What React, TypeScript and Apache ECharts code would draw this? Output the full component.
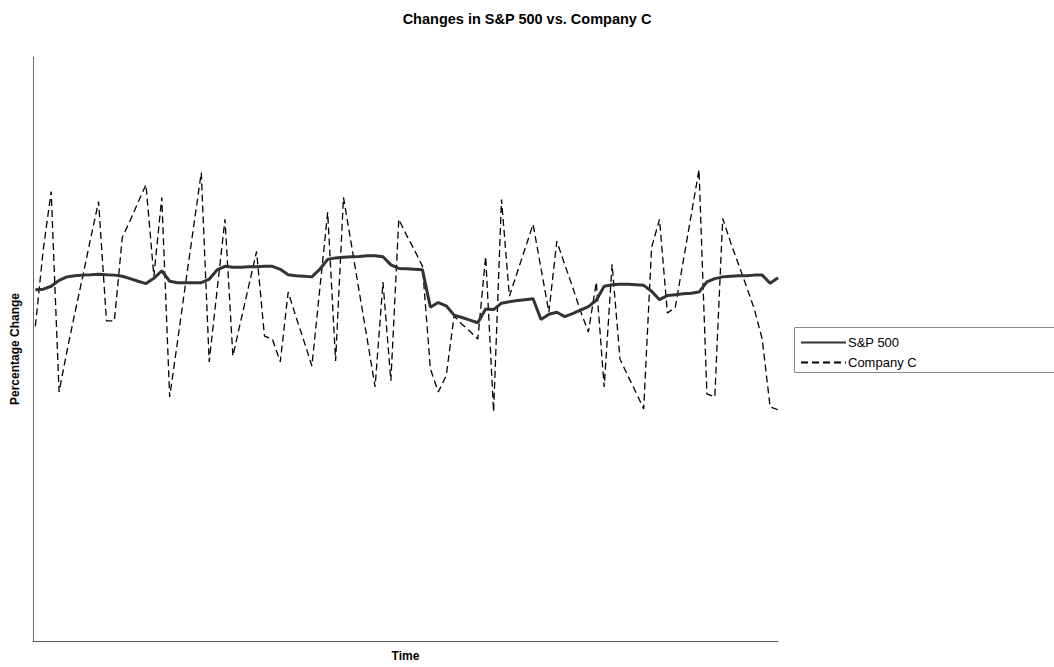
import React, { useEffect, useRef } from "react";
import * as echarts from "echarts";

const chartTitle = "Changes in S&P 500 vs. Company C";
const xAxisName = "Time";
const yAxisName = "Percentage Change";
const seriesNames = ["S&P 500", "Company C"];

const sp500: number[] = [
  2.03, 2.05, 2.15, 2.35, 2.47, 2.51, 2.53, 2.54, 2.56, 2.54,
  2.53, 2.49, 2.41, 2.32, 2.24, 2.42, 2.68, 2.32, 2.27, 2.27,
  2.27, 2.27, 2.39, 2.71, 2.83, 2.8, 2.8, 2.82, 2.82, 2.83,
  2.83, 2.73, 2.54, 2.51, 2.49, 2.47, 2.73, 3.07, 3.12, 3.14,
  3.16, 3.17, 3.19, 3.19, 3.16, 2.88, 2.76, 2.75, 2.73, 2.71,
  1.43, 1.59, 1.48, 1.16, 1.08, 0.99, 0.9, 1.37, 1.35, 1.57,
  1.62, 1.66, 1.69, 1.72, 1.01, 1.19, 1.26, 1.11, 1.21, 1.33,
  1.45, 1.67, 2.15, 2.2, 2.22, 2.22, 2.2, 2.18, 1.98, 1.69,
  1.83, 1.86, 1.89, 1.91, 1.95, 2.3, 2.41, 2.47, 2.49, 2.51,
  2.51, 2.53, 2.53, 2.25, 2.44,
];

const companyC: number[] = [
  0.78, 3.41, 5.39, -1.47, -0.07, 1.23, 2.49, 3.79, 5.05, 0.96,
  0.96, 3.82, 4.4, 5.02, 5.63, 2.49, 5.19, -1.64, 0.27, 2.22,
  4.13, 6.04, -0.44, 2.01, 4.44, -0.24, 0.96, 2.15, 3.34, 0.44,
  0.34, -0.44, 1.95, 1.09, 0.27, -0.58, 2.05, 4.68, -0.41, 5.19,
  3.58, 1.95, 0.34, -1.3, 2.29, -1.09, 4.44, 3.89, 3.38, 2.83,
  -0.68, -1.47, -0.92, 1.13, 0.85, 0.61, 0.34, 3.17, -2.15, 5.12,
  1.81, 2.63, 3.45, 4.27, 2.76, 1.26, 3.69, 2.9, 2.12, 1.3,
  0.58, 2.29, -1.3, 2.9, -0.34, -0.92, -1.47, -2.05, 3.48, 4.44,
  1.23, 1.43, 3.0, 4.57, 6.14, -1.54, -1.64, 4.47, 3.65, 2.9,
  2.15, 1.37, 0.34, -1.98, -2.08,
];

const timeIndex: number[] = sp500.map((_, i) => i);

export default function App() {
  const ref = useRef<HTMLDivElement>(null);

  useEffect(() => {
    if (!ref.current) return;
    const chart = echarts.init(ref.current, undefined, { renderer: "svg" });
    const font = "'Liberation Sans', Arial, Helvetica, sans-serif";
    chart.setOption({
      animation: false,
      backgroundColor: "#ffffff",
      textStyle: { fontFamily: font },
      title: {
        text: chartTitle,
        left: "center",
        top: 6,
        textStyle: { fontFamily: font, fontSize: 14.5, fontWeight: "bold", color: "#000" },
      },
      grid: { left: 33, right: 276, top: 57, bottom: 24 },
      legend: {
        orient: "vertical",
        left: 795,
        top: 331,
        itemWidth: 45,
        itemHeight: 10,
        itemGap: 7,
        itemStyle: { color: "transparent", borderWidth: 0, opacity: 0 },
        textStyle: { fontFamily: font, fontSize: 13, color: "#000", padding: [0, 0, 0, -3] },
        data: seriesNames,
      },
      graphic: [
        {
          type: "rect",
          shape: { x: 794.5, y: 327.5, width: 400, height: 45 },
          style: { fill: "#fff", stroke: "#8a8a8a", lineWidth: 1 },
          z: -1,
        },
      ],
      xAxis: {
        type: "value",
        min: -0.3,
        max: 94,
        name: xAxisName,
        nameLocation: "middle",
        nameGap: 9,
        nameTextStyle: { fontFamily: font, fontSize: 12, fontWeight: "bold", color: "#000", verticalAlign: "top" },
        axisLine: { onZero: false, lineStyle: { color: "#5a5a5a", width: 1 } },
        axisTick: { show: false },
        axisLabel: { show: false },
        splitLine: { show: false },
      },
      yAxis: {
        type: "value",
        min: -10,
        max: 10,
        name: yAxisName,
        nameLocation: "middle",
        nameGap: 12,
        nameTextStyle: { fontFamily: font, fontSize: 12, fontWeight: "bold", color: "#000" },
        axisLine: { show: true, onZero: false, lineStyle: { color: "#6a6a6a", width: 1 } },
        axisTick: { show: false },
        axisLabel: { show: false },
        splitLine: { show: false },
      },
      series: [
        {
          name: seriesNames[0],
          type: "line",
          data: timeIndex.map((t, i) => [t, sp500[i]]),
          showSymbol: false,
          symbol: "none",
          lineStyle: { color: "#333333", width: 3, type: "solid" },
          itemStyle: { color: "#333333" },
          z: 3,
        },
        {
          name: seriesNames[1],
          type: "line",
          data: timeIndex.map((t, i) => [t, companyC[i]]),
          showSymbol: false,
          symbol: "none",
          lineStyle: { color: "#000000", width: 1.3, type: [7, 4] },
          itemStyle: { color: "#000000" },
          z: 2,
        },
      ],
    });
    return () => chart.dispose();
  }, []);

  return (
    <div
      ref={ref}
      style={{ position: "absolute", left: 0, top: 0, width: 1054, height: 667 }}
    />
  );
}
